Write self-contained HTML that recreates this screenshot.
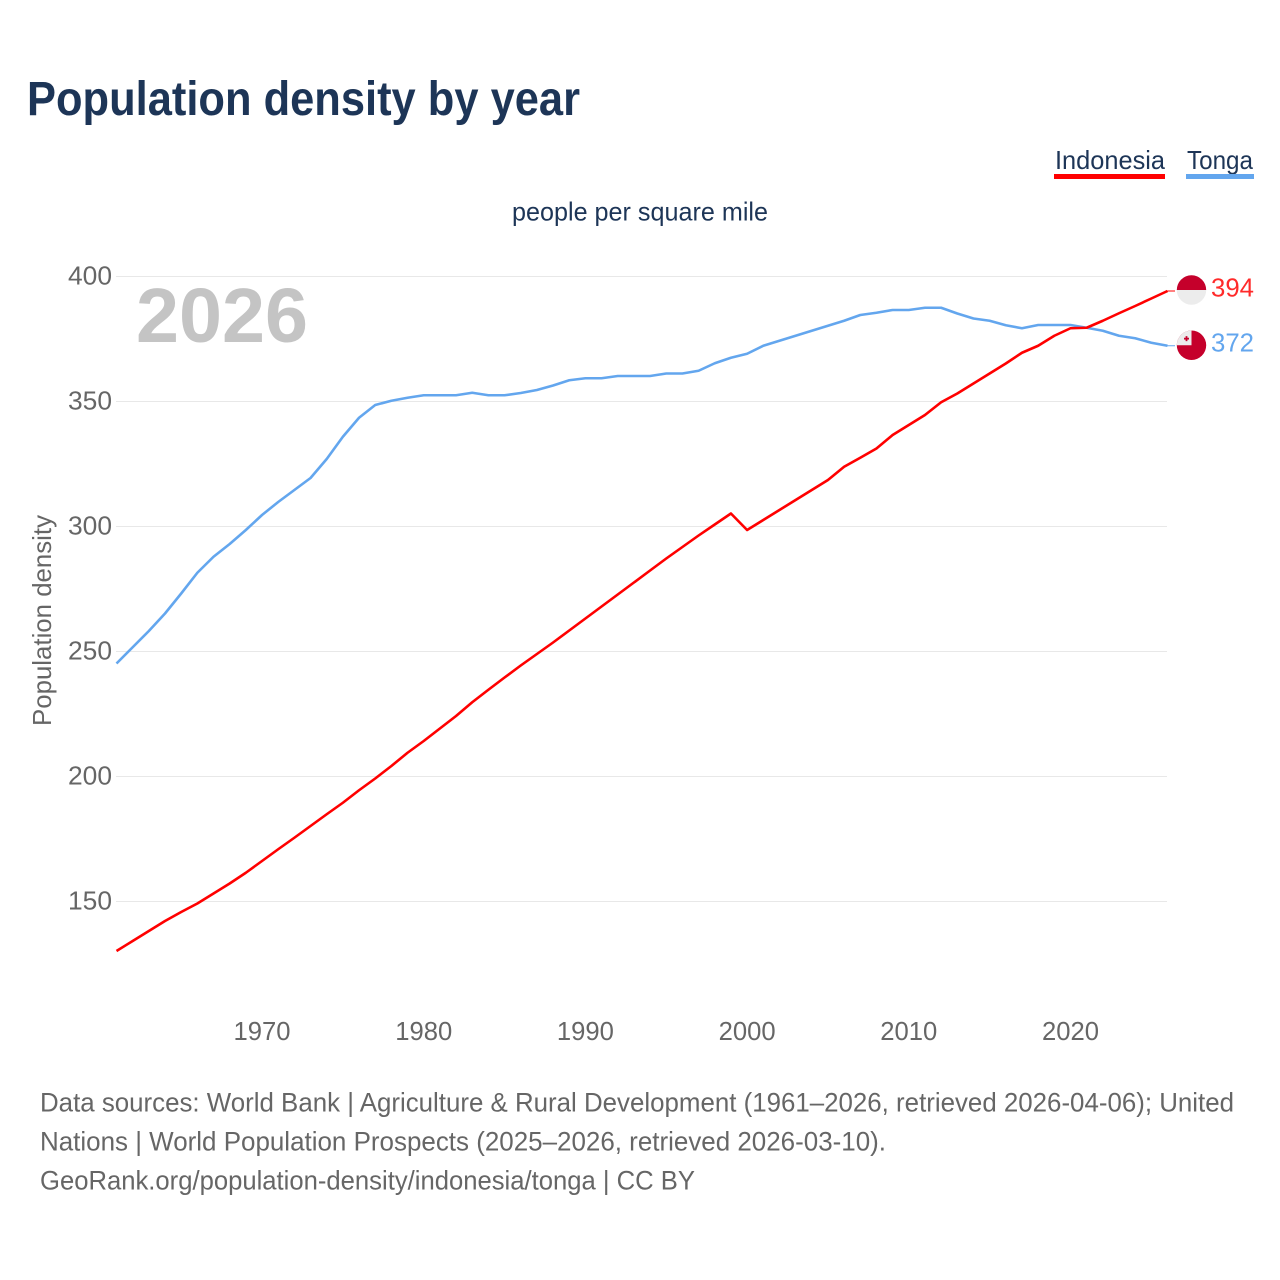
<!DOCTYPE html>
<html lang="en">
<head>
<meta charset="utf-8">
<title>Population density by year</title>
<style>
html,body{margin:0;padding:0;background:#fff;width:1280px;height:1280px;overflow:hidden}
svg{display:block;font-family:"Liberation Sans",sans-serif}
</style>
</head>
<body>
<svg id="chart" xmlns="http://www.w3.org/2000/svg" width="1280" height="1280" viewBox="0 0 1280 1280">
  <rect x="0" y="0" width="1280" height="1280" fill="#fff"/>
  <text x="27" y="115" font-size="48" font-weight="bold" fill="#1d3557" textLength="553" lengthAdjust="spacingAndGlyphs">Population density by year</text>
  <g>
    <text x="1055" y="169" font-size="26" fill="#1d3557" textLength="110" lengthAdjust="spacingAndGlyphs">Indonesia</text>
    <rect x="1054" y="174" width="111" height="5" fill="#ff0000"/>
  </g>
  <g>
    <text x="1187" y="169" font-size="26" fill="#1d3557" textLength="66" lengthAdjust="spacingAndGlyphs">Tonga</text>
    <rect x="1186" y="174" width="68" height="5" fill="#63a6ee"/>
  </g>
  <text x="512" y="220.5" font-size="26" fill="#1d3557" textLength="256" lengthAdjust="spacingAndGlyphs">people per square mile</text>
  <text x="136" y="342" font-size="77" font-weight="bold" fill="#c4c4c4" textLength="172" lengthAdjust="spacingAndGlyphs">2026</text>
  <text transform="translate(51 726) rotate(-90)" x="0" y="0" font-size="26" fill="#666" textLength="211" lengthAdjust="spacingAndGlyphs">Population density</text>
  <g id="grid"></g>
  <g id="y-ticks"></g>
  <g id="x-ticks"></g>
  <g id="series"></g>
  <g id="ends"></g>
  <text x="40" y="1111.5" font-size="27" fill="#666" textLength="1194" lengthAdjust="spacingAndGlyphs">Data sources: World Bank | Agriculture &amp; Rural Development (1961–2026, retrieved 2026-04-06); United</text>
  <text x="40" y="1150.5" font-size="27" fill="#666" textLength="846" lengthAdjust="spacingAndGlyphs">Nations | World Population Prospects (2025–2026, retrieved 2026-03-10).</text>
  <text x="40" y="1189.5" font-size="27" fill="#666" textLength="655" lengthAdjust="spacingAndGlyphs">GeoRank.org/population-density/indonesia/tonga | CC BY</text>
</svg>
<script>
var years = [1961,1962,1963,1964,1965,1966,1967,1968,1969,1970,1971,1972,1973,1974,1975,1976,1977,1978,1979,1980,1981,1982,1983,1984,1985,1986,1987,1988,1989,1990,1991,1992,1993,1994,1995,1996,1997,1998,1999,2000,2001,2002,2003,2004,2005,2006,2007,2008,2009,2010,2011,2012,2013,2014,2015,2016,2017,2018,2019,2020,2021,2022,2023,2024,2025,2026];
var indonesiaValues = [
  130,134,138,142,145.6,149,153,157,161.3,166,
  170.7,175.3,180,184.7,189.3,194.3,199,204,209.3,214,
  219,224,229.5,234.5,239.4,244.2,248.8,253.4,258.2,263,
  267.8,272.6,277.4,282.2,287,291.6,296.2,300.6,305,298.4,
  302.4,306.4,310.4,314.4,318.4,323.7,327.3,331,336.4,340.4,
  344.4,349.5,353,357,361,365,369.3,372.1,376.1,379.1,
  379.3,382.1,385.1,388,391,394
];
var tongaValues = [
  245,251.5,258,265,273,281.3,287.7,292.8,298.4,304.4,
  309.6,314.4,319.2,326.8,335.7,343.3,348.4,350.1,351.3,352.3,
  352.3,352.3,353.3,352.3,352.3,353.2,354.4,356.2,358.3,359.1,
  359.1,360,360,360,361,361,362.1,365.1,367.3,368.9,
  372.1,374.1,376.1,378.1,380.1,382.1,384.4,385.3,386.4,386.4,
  387.3,387.3,385,383,382.1,380.3,379.1,380.4,380.4,380.4,
  379.3,378.1,376.1,375.1,373.3,372.1
];
var yTickValues = [150,200,250,300,350,400];
var xTickValues = [1970,1980,1990,2000,2010,2020];

var NS = 'http://www.w3.org/2000/svg';
function xScale(year){ return 116.5 + (year - 1961) * (1167.5 - 116.5) / (2026 - 1961); }
function yScale(value){ return 276 + (400 - value) * 2.5; }
function make(tag, attrs, parent){
  var el = document.createElementNS(NS, tag);
  for (var k in attrs) el.setAttribute(k, attrs[k]);
  parent.appendChild(el);
  return el;
}
function linePath(values){
  return values.map(function(v, i){
    return (i ? 'L' : 'M') + xScale(years[i]).toFixed(2) + ' ' + yScale(v).toFixed(2);
  }).join(' ');
}

var grid = document.getElementById('grid');
var yTicks = document.getElementById('y-ticks');
yTickValues.forEach(function(v){
  var gl = make('line', {x1:116, x2:1167, y1:yScale(v)+0.5, y2:yScale(v)+0.5, stroke:'#e8e8e8', 'stroke-width':1}, grid);
  
  
  var t = make('text', {x:112, y:yScale(v)+8.5, 'text-anchor':'end', 'font-size':26, fill:'#666', textLength:44, lengthAdjust:'spacingAndGlyphs'}, yTicks);
  t.textContent = String(v);
  
  
});

var xTicks = document.getElementById('x-ticks');
xTickValues.forEach(function(v){
  var t = make('text', {x:xScale(v)-28.5, y:1040, 'font-size':26, fill:'#666', textLength:57, lengthAdjust:'spacingAndGlyphs'}, xTicks);
  t.textContent = String(v);
  
  
});

var series = document.getElementById('series');
var tongaLine = make('path', {d:linePath(tongaValues), fill:'none', stroke:'#63a6ee', 'stroke-width':2.6, 'stroke-linejoin':'round'}, series);


var indonesiaLine = make('path', {d:linePath(indonesiaValues), fill:'none', stroke:'#ff0000', 'stroke-width':2.6, 'stroke-linejoin':'round'}, series);



var ends = document.getElementById('ends');
var lastYear = years[years.length - 1];
var lastX = xScale(lastYear);

/* Indonesia end marker */
var indY = yScale(indonesiaValues[indonesiaValues.length - 1]);
var indLeader = make('line', {x1:lastX, x2:1175, y1:indY, y2:indY, stroke:'#ff0000', 'stroke-width':1}, ends);


var indFlag = make('g', {transform:'translate(1191.5 ' + (indY - 1) + ')'}, ends);


make('circle', {cx:0, cy:0, r:14.7, fill:'#ececec'}, indFlag);
make('path', {d:'M-14.7 0 A14.7 14.7 0 0 1 14.7 0 Z', fill:'#c5002b'}, indFlag);
var indLabel = make('text', {x:1211, y:indY + 5.5, 'font-size':26, fill:'#ff2a2a', textLength:43, lengthAdjust:'spacingAndGlyphs'}, ends);
indLabel.textContent = String(Math.round(indonesiaValues[indonesiaValues.length - 1]));



/* Tonga end marker */
var tonY = yScale(tongaValues[tongaValues.length - 1]);
var tonLeader = make('line', {x1:lastX, x2:1175, y1:tonY, y2:tonY, stroke:'#63a6ee', 'stroke-width':1}, ends);


var tonFlag = make('g', {transform:'translate(1191.5 ' + (tonY - 0.5) + ')'}, ends);


make('circle', {cx:0, cy:0, r:14.7, fill:'#c5002b'}, tonFlag);
make('path', {d:'M-14.7 0 A14.7 14.7 0 0 1 0 -14.7 L0 0 Z', fill:'#ececec'}, tonFlag);
make('rect', {x:-7.5, y:-7.5, width:5, height:1.8, fill:'#c5002b'}, tonFlag);
make('rect', {x:-5.9, y:-9.1, width:1.8, height:5, fill:'#c5002b'}, tonFlag);
var tonLabel = make('text', {x:1211, y:tonY + 5.8, 'font-size':26, fill:'#63a6ee', textLength:43, lengthAdjust:'spacingAndGlyphs'}, ends);
tonLabel.textContent = String(Math.round(tongaValues[tongaValues.length - 1]));


</script>
</body>
</html>
